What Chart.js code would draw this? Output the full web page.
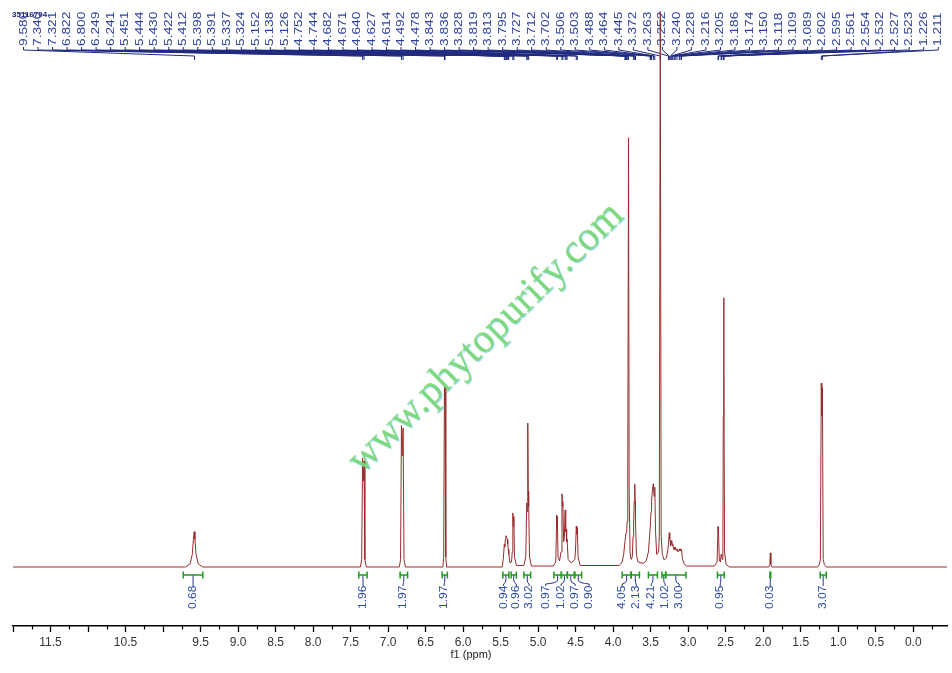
<!DOCTYPE html>
<html><head><meta charset="utf-8">
<script src="https://cdn.jsdelivr.net/npm/chart.js@4.4.1/dist/chart.umd.min.js"></script>
<style>html,body{margin:0;padding:0;background:#fff}canvas{display:block}</style>
</head><body>
<canvas id="c" width="952" height="673"></canvas>
<script>
// ---- data ----
const spectrumPpm = [
 12.0, 9.70, 9.64, 9.61, 9.595, 9.585, 9.575, 9.56, 9.53, 9.47,
 7.37, 7.352, 7.340, 7.331, 7.321, 7.310, 7.29,
 6.85, 6.834, 6.822, 6.811, 6.800, 6.788, 6.77,
 6.27, 6.259, 6.249, 6.245, 6.241, 6.231, 6.22,
 5.48, 5.465, 5.451, 5.444, 5.437, 5.430, 5.422, 5.412, 5.405, 5.398, 5.391, 5.375,
 5.355, 5.345, 5.337, 5.331, 5.324, 5.315, 5.29,
 5.19, 5.165, 5.152, 5.145, 5.138, 5.132, 5.126, 5.115, 5.09,
 4.80, 4.765, 4.752, 4.748, 4.744, 4.735, 4.715,
 4.695, 4.682, 4.677, 4.671, 4.660, 4.650, 4.640, 4.633, 4.627, 4.620, 4.614, 4.600, 4.560,
 4.510, 4.500, 4.492, 4.485, 4.478, 4.468, 4.44,
 3.92, 3.88, 3.86, 3.843, 3.836, 3.828, 3.819, 3.813, 3.805, 3.795, 3.787, 3.775, 3.760,
 3.745, 3.735, 3.727, 3.720, 3.712, 3.706, 3.702, 3.690, 3.670, 3.600,
 3.560, 3.530, 3.515, 3.506, 3.503, 3.495, 3.488, 3.475, 3.464, 3.455, 3.445, 3.435, 3.420,
 3.395, 3.385, 3.372, 3.360, 3.345, 3.320,
 3.290, 3.270, 3.263, 3.252, 3.246, 3.240, 3.234, 3.228, 3.222, 3.216, 3.210, 3.205, 3.195,
 3.186, 3.180, 3.174, 3.162, 3.150, 3.135, 3.118, 3.113, 3.109, 3.100, 3.089, 3.075, 3.050, 3.020,
 2.650, 2.615, 2.602, 2.598, 2.595, 2.585, 2.570, 2.561, 2.554, 2.545,
 2.537, 2.532, 2.527, 2.523, 2.515, 2.495, 2.45,
 1.925, 1.912, 1.905, 1.898, 1.885,
 1.275, 1.25, 1.238, 1.226, 1.219, 1.211, 1.200, 1.185, 1.16,
 -0.45
];
const spectrumIntensity = [
 0, 0, 0.6, 2.5, 5.5, 7, 5.5, 2.5, 0.6, 0,
 0, 1.5, 21.5, 17, 21, 1.5, 0,
 0, 1.5, 28, 22, 27.5, 1.5, 0,
 0, 2, 36, 33, 35.5, 2, 0,
 0, 1.5, 4.5, 4, 5.5, 6.2, 5.8, 5.5, 4.5, 3.5, 2.5, 0.8,
 1, 3, 10.7, 8, 10, 2, 0.3,
 0.3, 2, 12.7, 11, 28.5, 15, 12, 2, 0.2,
 0.2, 1, 10.3, 8.5, 10, 2, 1.2,
 3, 14.5, 12, 13, 5, 6, 11.3, 7, 7.5, 5, 5.5, 1.5, 0.8,
 1.5, 4, 8.1, 6.5, 7.8, 2, 0.3,
 0.3, 1, 2.5, 5, 6, 6.8, 7.5, 9, 20, 85, 15, 3, 1.5,
 2, 6, 8.5, 13, 16.4, 13, 9, 2.5, 1, 0.7,
 1.2, 3, 6, 8, 9, 11, 13, 15.5, 16.5, 14, 15.8, 7, 2.5,
 3, 6, 110, 6, 2.5, 1.4,
 1.8, 3.5, 4.5, 6.8, 5.5, 5.3, 4.2, 5.2, 4.5, 5.0, 4.2, 4.5, 3.5,
 3.8, 3.4, 4.0, 3.3, 3.6, 3.0, 3.5, 3.3, 3.6, 3.2, 3.4, 1.5, 0.5, 0.2,
 0.2, 1, 8, 6.5, 7.5, 1.2, 1, 2.5, 2.2, 1.5,
 5, 30, 53.3, 42, 3, 0.5, 0,
 0, 0.5, 2.8, 0.5, 0,
 0, 0.6, 1.5, 36.4, 30, 35.5, 1.5, 0.5, 0,
 0
];
const peakShifts = [
 9.580, 7.340, 7.321, 6.822, 6.800, 6.249, 6.241, 5.451, 5.444, 5.430, 5.422, 5.412, 5.398, 5.391,
 5.337, 5.324, 5.152, 5.138, 5.126, 4.752, 4.744, 4.682, 4.671, 4.640, 4.627, 4.614, 4.492, 4.478,
 3.843, 3.836, 3.828, 3.819, 3.813, 3.795, 3.727, 3.712, 3.702, 3.506, 3.503, 3.488, 3.464, 3.445,
 3.372, 3.263, 3.252, 3.240, 3.228, 3.216, 3.205, 3.186, 3.174, 3.150, 3.118, 3.109, 3.089,
 2.602, 2.595, 2.561, 2.554, 2.532, 2.527, 2.523, 1.226, 1.211
];
const integralFrom   = [9.73, 7.39, 6.84, 6.28, 5.47, 5.36, 5.19, 4.79, 4.69, 4.61, 4.51, 3.88, 3.76, 3.53, 3.35, 3.30, 2.61, 1.91, 1.24];
const integralTo     = [9.47, 7.28, 6.74, 6.21, 5.39, 5.29, 5.10, 4.69, 4.61, 4.52, 4.42, 3.76, 3.65, 3.41, 3.30, 3.03, 2.52, 1.90, 1.16];
const integralValues = [0.68, 1.96, 1.97, 1.97, 0.94, 0.96, 3.02, 0.97, 1.02, 0.97, 0.90, 4.05, 2.13, 4.21, 1.02, 3.00, 0.95, 0.03, 3.07];
const axisLabelValues = [11.5, 10.5, 9.5, 9.0, 8.5, 8.0, 7.5, 7.0, 6.5, 6.0, 5.5, 5.0, 4.5, 4.0, 3.5, 3.0, 2.5, 2.0, 1.5, 1.0, 0.5, 0.0];
const majorTicks = [12.0, 11.5, 11.0, 10.5, 10.0, 9.5, 9.0, 8.5, 8.0, 7.5, 7.0, 6.5, 6.0, 5.5, 5.0, 4.5, 4.0, 3.5, 3.0, 2.5, 2.0, 1.5, 1.0, 0.5, 0.0];
const minorTicks = [11.75, 11.25, 10.75, 10.25, 9.75, 9.25, 8.75, 8.25, 7.75, 7.25, 6.75, 6.25, 5.75, 5.25, 4.75, 4.25, 3.75, 3.25, 2.75, 2.25, 1.75, 1.25, 0.75, 0.25, -0.25];

// ---- layout (not data) ----
const integralLabelAt = [9.60, 7.333, 6.80, 6.253, 5.46, 5.29, 5.12, 4.90, 4.693, 4.507, 4.32, 3.88, 3.693, 3.493, 3.307, 3.12, 2.573, 1.907, 1.20];

const headerPlugin = {
  id: 'header',
  beforeDatasetsDraw(chart) {
    const s = chart.scales.x, c = chart.ctx;
    c.save();
    c.font = 'bold 8px "Liberation Sans"';
    c.fillStyle = '#1c2570';
    c.textBaseline = 'middle';
    c.fillText('35116704', 12, 15);
    peakShifts.forEach((p, i) => {
      const xl = 23.5 + i * 14.52;
      const xp = s.getPixelForValue(p);
      c.strokeStyle = '#1f2a80';
      c.lineWidth = 1;
      c.beginPath();
      c.moveTo(xl, 47); c.lineTo(xl, 50); c.lineTo(xp, 56); c.lineTo(xp, 60);
      c.stroke();
      c.save();
      c.translate(xl, 46);
      c.rotate(-Math.PI / 2);
      c.scale(1.25, 1);
      c.font = '11px "Liberation Sans"';
      c.textAlign = 'left';
      c.textBaseline = 'middle';
      c.fillStyle = '#2b3f9e';
      c.fillText(p.toFixed(3), 0, 0);
      c.restore();
    });
    c.restore();
  }
};

const overlayPlugin = {
  id: 'overlay',
  afterDatasetsDraw(chart) {
    const s = chart.scales.x, c = chart.ctx;
    c.save();
    integralValues.forEach((v, i) => {
      const x1 = s.getPixelForValue(integralFrom[i]);
      const x2 = s.getPixelForValue(integralTo[i]);
      const xm = (x1 + x2) / 2;
      const xl = s.getPixelForValue(integralLabelAt[i]);
      c.strokeStyle = '#2a3590'; c.lineWidth = 1;
      c.beginPath(); c.moveTo(xm, 575); c.lineTo(xm, 580);
      c.quadraticCurveTo(xm, 583, xl, 584); c.lineTo(xl, 586); c.stroke();
      c.strokeStyle = '#1e9a1e'; c.lineWidth = 1.5;
      c.beginPath();
      c.moveTo(x1, 575); c.lineTo(x2, 575);
      c.moveTo(x1, 571.5); c.lineTo(x1, 578.5);
      c.moveTo(x2, 571.5); c.lineTo(x2, 578.5);
      c.stroke();
      c.save();
      c.translate(xl, 609);
      c.rotate(-Math.PI / 2);
      c.scale(1.15, 1);
      c.font = '10.5px "Liberation Sans"';
      c.textAlign = 'left'; c.textBaseline = 'middle';
      c.fillStyle = '#2b4ab0';
      c.fillText(v.toFixed(2), 0, 0);
      c.restore();
    });
    c.save();
    c.translate(486, 338);
    c.rotate(-44.4 * Math.PI / 180);
    c.font = '41px "Liberation Serif"';
    c.textAlign = 'center'; c.textBaseline = 'middle';
    c.shadowColor = 'rgba(90,190,235,0.8)';
    c.shadowOffsetX = 1; c.shadowOffsetY = 1; c.shadowBlur = 1;
    c.fillStyle = 'rgba(125,218,110,0.88)';
    c.fillText('www.phytopurify.com', 0, 0);
    c.restore();
    c.restore();
  },
  afterDraw(chart) {
    const s = chart.scales.x, c = chart.ctx, y = chart.chartArea.bottom;
    c.save();
    c.strokeStyle = '#000'; c.lineWidth = 1.2;
    minorTicks.forEach(v => {
      const x = Math.round(s.getPixelForValue(v)) + 0.5;
      c.beginPath(); c.moveTo(x, y); c.lineTo(x, y + 3.5); c.stroke();
    });
    c.font = '11px "Liberation Sans"';
    c.fillStyle = '#222';
    c.textAlign = 'center'; c.textBaseline = 'middle';
    c.fillText('f1 (ppm)', 471, 655);
    c.restore();
  }
};

new Chart(document.getElementById('c'), {
  type: 'scatter',
  data: {
    datasets: [{
      data: spectrumPpm.map((p, i) => ({ x: p, y: spectrumIntensity[i] })),
      showLine: true,
      borderColor: '#962c2c',
      borderWidth: 1,
      pointRadius: 0,
      tension: 0,
      clip: false
    }]
  },
  options: {
    responsive: false,
    animation: false,
    devicePixelRatio: 1,
    layout: { padding: { left: 13, right: 5, top: 62, bottom: 0 } },
    plugins: { legend: { display: false }, tooltip: { enabled: false } },
    scales: {
      x: {
        type: 'linear', reverse: true, min: -0.45, max: 12.0,
        afterBuildTicks: s => { s.ticks = majorTicks.map(v => ({ value: v })); },
        afterFit: s => { s.height = 47; },
        ticks: {
          autoSkip: false, maxRotation: 0, minRotation: 0, padding: 3,
          color: '#333', font: { family: 'Liberation Sans', size: 12 },
          callback: v => axisLabelValues.includes(v) ? v.toFixed(1) : ''
        },
        grid: { display: true, drawOnChartArea: false, drawTicks: true, tickLength: 6, tickColor: '#000', tickWidth: 1.3 },
        border: { display: true, color: '#000', width: 1.5 },
        title: { display: false }
      },
      y: { display: false, min: -11.68, max: 100 }
    }
  },
  plugins: [headerPlugin, overlayPlugin]
});
</script>
</body></html>
